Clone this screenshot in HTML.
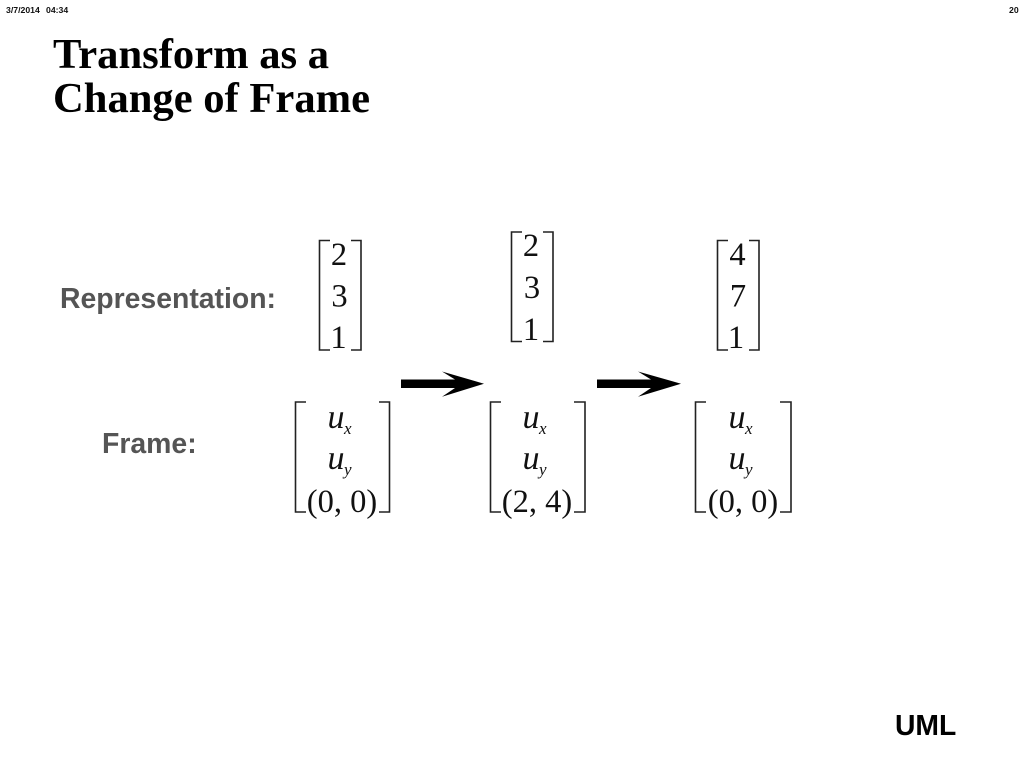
<!DOCTYPE html>
<html>
<head>
<meta charset="utf-8">
<style>
html,body{margin:0;padding:0;background:#fff;width:1024px;height:768px;overflow:hidden}
svg{display:block}
.s{font-family:"Liberation Serif",serif;fill:#111}
.b{font-family:"Liberation Sans",sans-serif;font-weight:bold}
.br{fill:none;stroke:#222;stroke-width:1.6}
.n{font-size:32.5px;text-anchor:middle}
.u{font-size:34px;font-style:italic;text-anchor:middle}
.x{font-size:17px;font-style:italic}
.p{font-size:32.5px;text-anchor:middle}
</style>
</head>
<body>
<svg width="1024" height="768" viewBox="0 0 1024 768" xmlns="http://www.w3.org/2000/svg">
<text class="b" x="6" y="13" font-size="8.7" fill="#111">3/7/2014</text>
<text class="b" x="46" y="13" font-size="8.7" fill="#111">04:34</text>
<text class="b" x="1009" y="13" font-size="8.7" fill="#111">20</text>

<text x="53" y="68" font-family="Liberation Serif, serif" font-weight="bold" font-size="42.6" fill="#000">Transform as a</text>
<text x="53" y="112" font-family="Liberation Serif, serif" font-weight="bold" font-size="42.6" fill="#000">Change of Frame</text>

<text class="b" x="60" y="308" font-size="28.4" fill="#555" textLength="216" lengthAdjust="spacingAndGlyphs">Representation:</text>
<text class="b" x="102" y="453" font-size="28.4" fill="#555">Frame:</text>
<text class="b" x="895" y="735" font-size="28.3" fill="#000">UML</text>

<!-- vectors -->
<path class="br" d="M330 240.500H319.500V350H330M351 240.500H361V350H351"/>
<text class="s n" x="339" y="265">2</text>
<text class="s n" x="339.500" y="306.500">3</text>
<text class="s n" x="338.500" y="348">1</text>

<path class="br" d="M522 232H511.500V341.500H522M543 232H553V341.500H543"/>
<text class="s n" x="531" y="256">2</text>
<text class="s n" x="532" y="298">3</text>
<text class="s n" x="531" y="340">1</text>

<path class="br" d="M728 240.500H717.500V350H728M749 240.500H759V350H749"/>
<text class="s n" x="737.500" y="265">4</text>
<text class="s n" x="738" y="306.500">7</text>
<text class="s n" x="736" y="348">1</text>

<!-- arrows -->
<path d="M401 379.500H455L442 371.500L484 383.700L442 396.700L455 388H401Z" fill="#000"/>
<path d="M597 379.500H651L638 371.500L681 383.700L638 396.700L651 388H597Z" fill="#000"/>

<!-- frame 1 -->
<path class="br" d="M306 402H295.500V512H306M379 402H389.500V512H379"/>
<text class="s u" x="336" y="428">u</text><text class="s x" x="344" y="434">x</text>
<text class="s u" x="336" y="469">u</text><text class="s x" x="344" y="475">y</text>
<text class="s p" x="342" y="512">(0, 0)</text>

<!-- frame 2 -->
<path class="br" d="M501 402H490.500V512H501M574 402H585V512H574"/>
<text class="s u" x="531" y="428">u</text><text class="s x" x="539" y="434">x</text>
<text class="s u" x="531" y="469">u</text><text class="s x" x="539" y="475">y</text>
<text class="s p" x="537" y="512">(2, 4)</text>

<!-- frame 3 -->
<path class="br" d="M706 402H695.500V512H706M780 402H791V512H780"/>
<text class="s u" x="737" y="428">u</text><text class="s x" x="745" y="434">x</text>
<text class="s u" x="737" y="469">u</text><text class="s x" x="745" y="475">y</text>
<text class="s p" x="743" y="512">(0, 0)</text>
</svg>
</body>
</html>
